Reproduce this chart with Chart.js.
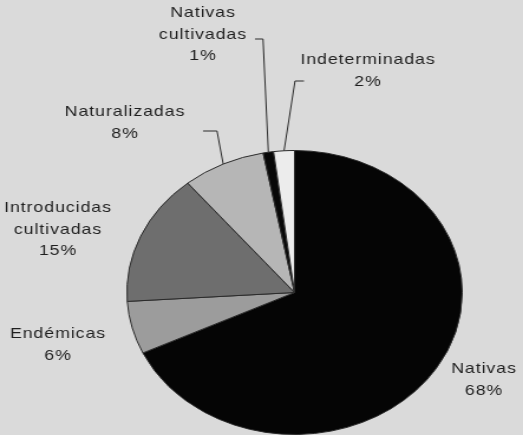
<!DOCTYPE html>
<html>
<head>
<meta charset="utf-8">
<script src="https://cdn.jsdelivr.net/npm/chart.js@4/dist/chart.umd.min.js"></script>
<style>
  html, body { margin: 0; padding: 0; background: #dadada; overflow: hidden; }
  #wrap { width: 443px; height: 435px; transform: scaleX(1.1806); transform-origin: 0 0; }
</style>
</head>
<body>
<div id="wrap"><canvas id="pieChart" width="443" height="435"></canvas></div>
<script>
// categories and values, clockwise from 12 o'clock
var categories = ["Nativas", "Endémicas", "Introducidas cultivadas", "Naturalizadas", "Nativas cultivadas", "Indeterminadas"];
var values = [68, 6, 15, 8, 1, 2];
var labelLines = [
  ["Nativas", "68%"],
  ["Endémicas", "6%"],
  ["Introducidas", "cultivadas", "15%"],
  ["Naturalizadas", "8%"],
  ["Nativas", "cultivadas", "1%"],
  ["Indeterminadas", "2%"]
];
var sliceColors = ["#050505", "#9c9c9c", "#6e6e6e", "#b6b6b6", "#080808", "#ececec"];

var SX = 523 / 443; // page is stretched horizontally

// label placement in page pixels: centre x, first line y, optional leader stub
var labelPos = [
  { x: 484, y: 369 },
  { x: 58, y: 334 },
  { x: 58, y: 208 },
  { x: 125, y: 112, leader: [[203, 131], [217, 131]] },
  { x: 203, y: 13, leader: [[255, 39], [263, 39]] },
  { x: 368, y: 60, leader: [[304, 81], [295, 81]] }
];

var sliceLabels = {
  id: "sliceLabels",
  afterDatasetsDraw: function(chart) {
    var ctx = chart.ctx;
    var arcs = chart.getDatasetMeta(0).data;
    ctx.save();
    ctx.fillStyle = "#1e1e1e";
    ctx.font = "15px 'Liberation Sans', Arial, sans-serif";
    ctx.textAlign = "center";
    ctx.textBaseline = "middle";
    ctx.letterSpacing = "0.8px";
    for (var i = 0; i < arcs.length; i++) {
      var p = labelPos[i];
      var lines = labelLines[i];
      for (var j = 0; j < lines.length; j++) {
        ctx.fillText(lines[j], p.x / SX, p.y + j * 21.5);
      }
      if (p.leader) {
        var a = arcs[i].getProps(["x", "y", "startAngle", "endAngle", "outerRadius"]);
        var mid = (a.startAngle + a.endAngle) / 2;
        ctx.beginPath();
        ctx.strokeStyle = "#2a2a2a";
        ctx.lineWidth = 1;
        ctx.moveTo(p.leader[0][0] / SX, p.leader[0][1]);
        ctx.lineTo(p.leader[1][0] / SX, p.leader[1][1]);
        ctx.lineTo(a.x + Math.cos(mid) * a.outerRadius, a.y + Math.sin(mid) * a.outerRadius);
        ctx.stroke();
      }
    }
    ctx.restore();
  }
};

new Chart(document.getElementById("pieChart"), {
  type: "pie",
  data: {
    labels: categories,
    datasets: [{
      data: values,
      backgroundColor: sliceColors,
      borderColor: "#2a2a2a",
      borderWidth: 1,
      hoverOffset: 0
    }]
  },
  options: {
    responsive: false,
    animation: false,
    layout: {
      padding: { left: 107, right: 51, top: 150, bottom: 0 }
    },
    plugins: {
      legend: { display: false },
      tooltip: { enabled: false }
    }
  },
  plugins: [sliceLabels]
});
</script>
</body>
</html>
